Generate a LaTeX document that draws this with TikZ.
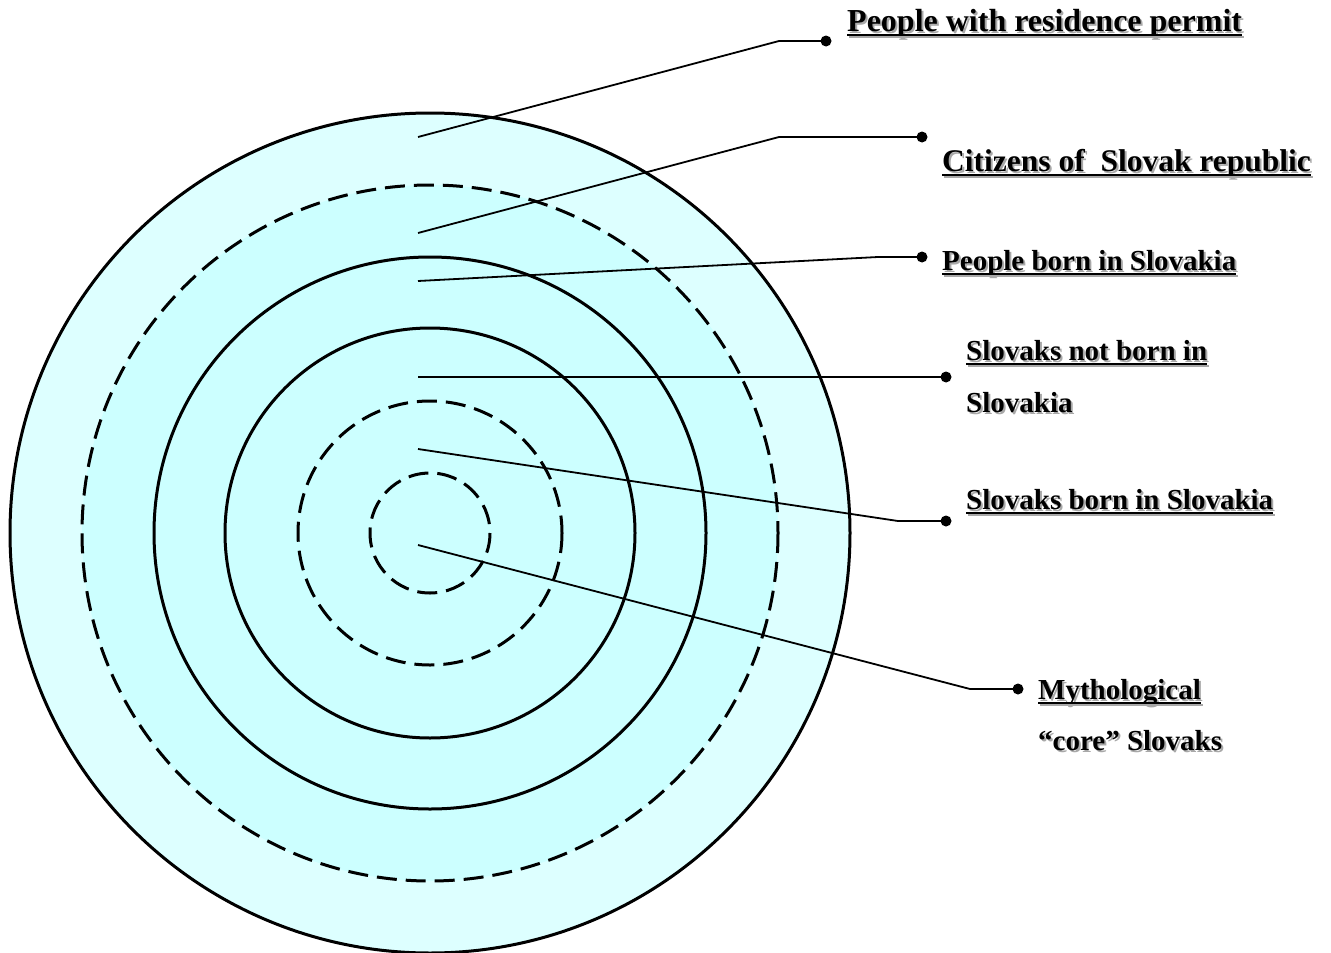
\documentclass[tikz,border=0pt]{standalone}
\usepackage{fontspec}
\setmainfont{Liberation Serif}
\definecolor{ringout}{HTML}{DDFFFF}
\definecolor{ringin}{HTML}{CCFFFF}
\definecolor{shad}{HTML}{A8A8A8}
\tikzset{
  ring/.style={draw=black, line width=3pt},
  dring/.style={ring, dash pattern=on 20pt off 9pt},
  conn/.style={draw=black, line width=1.8pt},
  dot/.style={circle, fill=black, inner sep=0pt, minimum size=11pt},
  lbl/.style={inner sep=0pt, anchor=base west, font=\bfseries\fontsize{29}{29}\selectfont},
  lblmid/.style={lbl, font=\bfseries\fontsize{31.5}{31.5}\selectfont},
  lblbig/.style={lbl, font=\bfseries\fontsize{32}{32}\selectfont},
  ul/.style={draw=black, line width=2.2pt},
  uls/.style={draw=shad, line width=2.2pt},
}
% name, x, y, style, text
\newcommand\mylab[5]{%
  \node[#4, text=shad] (#1s) at (#2+2,#3+2) {#5};
  \node[#4] (#1) at (#2,#3) {#5};
}
\newcommand\myul[1]{%
  \draw[uls] ([shift={(2pt,-6pt)}]#1.base west) -- ([shift={(2pt,-6pt)}]#1.base east);
  \draw[ul] ([yshift=-4pt]#1.base west) -- ([yshift=-4pt]#1.base east);
}
\begin{document}
\begin{tikzpicture}[x=1pt,y=-1pt]
\useasboundingbox (0,0) rectangle (1331,953);
\coordinate (C) at (430,533);
% rings
\fill[ringout] (C) circle[radius=420];
\fill[ringin] (C) circle[radius=348];
\draw[ring] (C) circle[radius=420];
\draw[dring] (C) circle[radius=348];
\draw[ring] (C) circle[radius=276];
\draw[ring] (C) circle[radius=205];
\draw[dring] (C) circle[radius=132];
\draw[dring] (C) circle[radius=60];
% connector start points
\coordinate (s1) at (418,137);
\coordinate (s2) at (418,233);
\coordinate (s3) at (418,281);
\coordinate (s4) at (418,377);
\coordinate (s5) at (418,449);
\coordinate (s6) at (418,545);
% dots
\node[dot] (d1) at (826,41) {};
\node[dot] (d2) at (922,137) {};
\node[dot] (d3) at (922,257) {};
\node[dot] (d4) at (946,377) {};
\node[dot] (d5) at (946,521) {};
\node[dot] (d6) at (1018,689) {};
% connectors
\draw[conn] (s1) -- (779,41) -- (d1.center);
\draw[conn] (s2) -- (779,137) -- (d2.center);
\draw[conn] (s3) -- (878,257) -- (d3.center);
\draw[conn] (s4) -- (d4.center);
\draw[conn] (s5) -- (898,521) -- (d5.center);
\draw[conn] (s6) -- (970,689) -- (d6.center);
% labels
\mylab{t1}{847}{31}{lblbig}{People with residence permit}
\myul{t1}
\mylab{t2}{942}{171}{lblmid}{Citizens of\ \ Slovak republic}
\myul{t2}
\mylab{t3}{942}{270}{lbl}{People born in Slovakia}
\myul{t3}
\mylab{t4}{966}{360}{lbl}{Slovaks not born in}
\myul{t4}
\mylab{t4b}{966}{412}{lbl}{Slovakia}
\mylab{t5}{966}{509}{lbl}{Slovaks born in Slovakia}
\myul{t5}
\mylab{t6}{1038}{699}{lbl}{Mythological}
\myul{t6}
\mylab{t6b}{1038}{750}{lbl}{“core” Slovaks}
\end{tikzpicture}
\end{document}
